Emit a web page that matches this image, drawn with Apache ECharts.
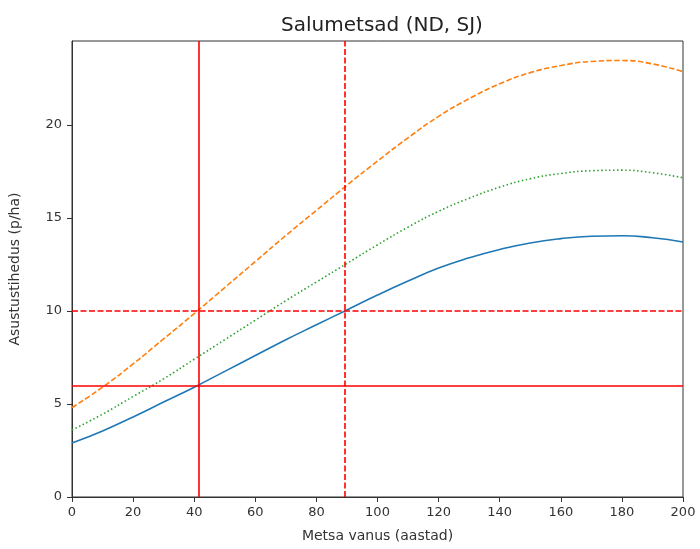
<!DOCTYPE html>
<html>
<head>
<meta charset="utf-8">
<script src="https://cdn.jsdelivr.net/npm/echarts@6/dist/echarts.min.js"></script>
<style>
  html, body { margin: 0; padding: 0; background: #fff; }
  #chart { width: 700px; height: 549px; }
</style>
</head>
<body>
<div id="chart"></div>
<script>
// metsa vanus (aastad)
const ages = [0, 10, 20, 30, 40, 50, 60, 70, 80, 90, 100, 110, 120, 130, 140, 150, 160, 170, 180, 190, 200];
// kolm kõverat, loetud pildilt
const blueVals = [2.9, 3.55, 4.3, 5.1, 5.9, 6.75, 7.6, 8.45, 9.25, 10.05, 10.85, 11.6, 12.3, 12.85, 13.3, 13.65, 13.88, 14.01, 14.04, 13.93, 13.7];
const orangeVals = [4.8, 5.9, 7.15, 8.5, 9.85, 11.25, 12.65, 14.05, 15.4, 16.75, 18.05, 19.3, 20.45, 21.4, 22.2, 22.8, 23.18, 23.4, 23.45, 23.27, 22.85];
const greenVals = [3.6, 4.45, 5.4, 6.35, 7.4, 8.45, 9.5, 10.55, 11.55, 12.55, 13.55, 14.5, 15.35, 16.05, 16.65, 17.1, 17.38, 17.53, 17.56, 17.42, 17.15];
const yTicks = [0, 5, 10, 15, 20];
// punased abijooned
const vSolid = 41.5, vDashed = 89.2;
const hSolid = 6, hDashed = 10;

const pairs = (vals) => ages.map((a, i) => [a, vals[i]]);

const chart = echarts.init(document.getElementById("chart"));
const tickText = { color: "#333", fontSize: 13, fontFamily: "DejaVu Sans" };
const nameText = { color: "#333", fontSize: 14, fontFamily: "DejaVu Sans" };

chart.setOption({
  animation: false,
  title: {
    text: "Salumetsad (ND, SJ)",
    left: 377,
    top: 11,
    textAlign: "center",
    textStyle: { fontSize: 20, fontWeight: "normal", color: "#222", fontFamily: "DejaVu Sans" },
  },
  grid: {
    left: 72,
    right: 17,
    top: 41,
    bottom: 52,
    show: true,
    borderColor: "#333",
    borderWidth: 1,
  },
  xAxis: {
    type: "value",
    min: 0,
    max: 200,
    interval: 20,
    name: "Metsa vanus (aastad)",
    nameLocation: "middle",
    nameGap: 32,
    nameTextStyle: nameText,
    axisLine: { show: true, lineStyle: { color: "#333" } },
    axisTick: { show: true, length: 5, lineStyle: { color: "#333" } },
    axisLabel: Object.assign({ margin: 9 }, tickText),
    splitLine: { show: false },
  },
  yAxis: {
    type: "value",
    min: 0,
    max: 24.5,
    name: "Asustustihedus (p/ha)",
    nameLocation: "middle",
    nameGap: 50,
    nameTextStyle: nameText,
    axisLine: { show: true, lineStyle: { color: "#333" } },
    axisTick: { show: true, length: 5, customValues: yTicks, lineStyle: { color: "#333" } },
    axisLabel: Object.assign({ margin: 10, customValues: yTicks }, tickText),
    splitLine: { show: false },
  },
  series: [
    {
      type: "line",
      data: pairs(blueVals),
      smooth: true,
      symbol: "none",
      lineStyle: { color: "#1f77b4", width: 1.6 },
      z: 3,
      markLine: {
        silent: true,
        symbol: "none",
        label: { show: false },
        data: [
          { xAxis: vSolid, lineStyle: { color: "#ff0000", width: 1.6, type: "solid" } },
          { xAxis: vDashed, lineStyle: { color: "#ff0000", width: 1.6, type: [6, 2.5] } },
          { yAxis: hSolid, lineStyle: { color: "#ff0000", width: 1.6, type: "solid" } },
          { yAxis: hDashed, lineStyle: { color: "#ff0000", width: 1.6, type: [6, 2.5] } },
        ],
      },
    },
    {
      type: "line",
      data: pairs(orangeVals),
      smooth: true,
      symbol: "none",
      lineStyle: { color: "#ff7f0e", width: 1.6, type: [5.5, 2.4] },
      z: 3,
    },
    {
      type: "line",
      data: pairs(greenVals),
      smooth: true,
      symbol: "none",
      lineStyle: { color: "#2ca02c", width: 1.6, type: [1.5, 2.5] },
      z: 3,
    },
  ],
});
</script>
</body>
</html>
